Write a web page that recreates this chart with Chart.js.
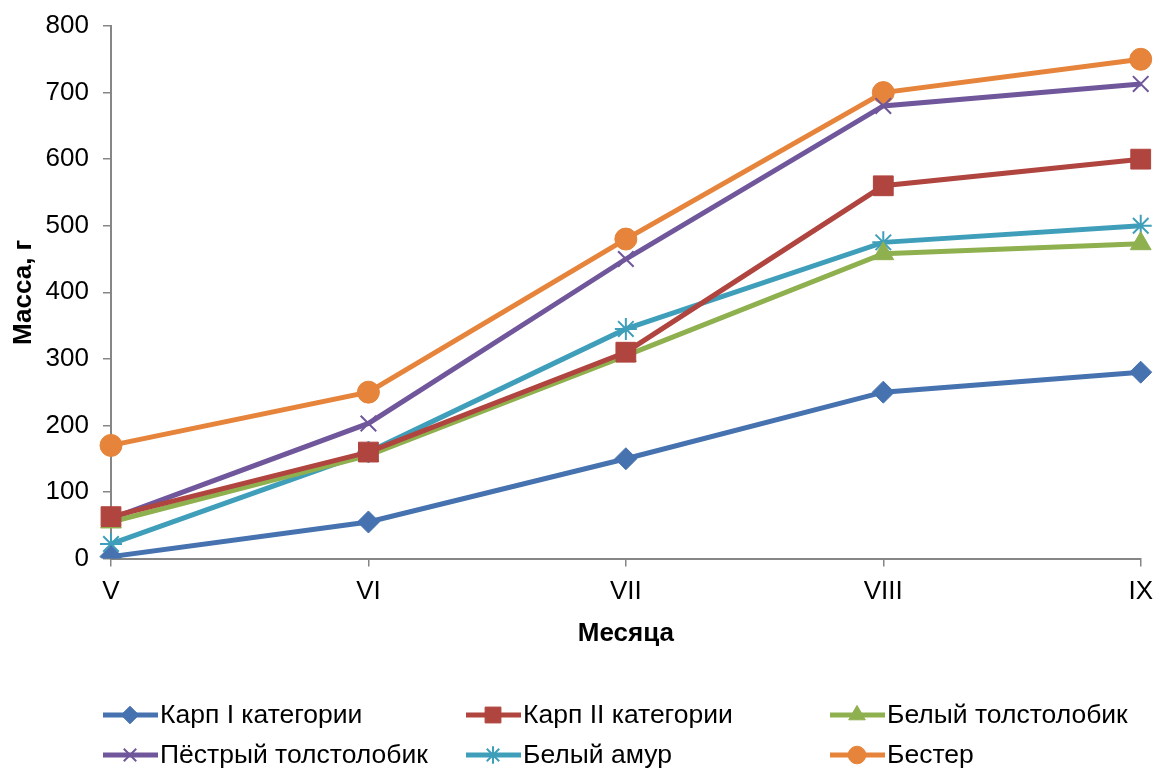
<!DOCTYPE html>
<html>
<head>
<meta charset="utf-8">
<script src="https://cdn.jsdelivr.net/npm/chart.js@4/dist/chart.umd.min.js"></script>
<style>
  body { margin: 0; background: #fff; }
</style>
</head>
<body>
<canvas id="myChart" width="1163" height="772"></canvas>
<script>
// months
let months = ['V', 'VI', 'VII', 'VIII', 'IX'];

// mass, g
let karp1 = [3, 55, 150, 250, 280];
let karp2 = [63, 160, 310, 560, 600];
let belTolst = [55, 155, 305, 458, 473];
let pestrTolst = [60, 203, 450, 680, 713];
let belAmur = [22, 160, 345, 475, 500];
let bester = [170, 250, 480, 700, 750];

let names = ['Карп I категории', 'Карп II категории', 'Белый толстолобик',
             'Пёстрый толстолобик', 'Белый амур', 'Бестер'];

let font = 'Liberation Sans, Arial, sans-serif';

function series(label, data, color, style, radius, bw) {
    return {
        label: label,
        data: data,
        borderColor: color,
        backgroundColor: color,
        borderWidth: 5,
        pointStyle: style,
        pointRadius: radius,
        pointHoverRadius: radius,
        pointBorderWidth: bw,
        pointBackgroundColor: color,
        pointBorderColor: color,
        tension: 0
    };
}

let sets = [
    series(names[0], karp1, '#4672B0', 'rectRot', 11, 1),
    series(names[1], karp2, '#B0443F', 'rect', 14, 1),
    series(names[2], belTolst, '#8FB04F', 'triangle', 12, 1),
    series(names[3], pestrTolst, '#70579B', 'crossRot', 11, 2),
    series(names[4], belAmur, '#3F9FBA', 'star', 11, 2),
    series(names[5], bester, '#E5843A', 'circle', 11, 1)
];

// legend like excel: line with marker in the middle
let legendPlugin = {
    id: 'lineLegend',
    afterDraw(chart) {
        let c = chart.ctx;
        let cols = [103, 466, 830];
        let rows = [715, 755];
        chart.data.datasets.forEach((ds, i) => {
            let x = cols[i % 3];
            let y = rows[Math.floor(i / 3)];
            c.save();
            c.strokeStyle = ds.borderColor;
            c.fillStyle = ds.borderColor;
            c.lineWidth = 5;
            c.beginPath();
            c.moveTo(x, y);
            c.lineTo(x + 55, y);
            c.stroke();
            c.lineWidth = ds.pointBorderWidth;
            Chart.helpers.drawPoint(c, {
                pointStyle: ds.pointStyle,
                rotation: 0,
                radius: ds.pointRadius * 0.8,
                borderWidth: ds.pointBorderWidth
            }, x + 27, y);
            c.fillStyle = '#000';
            c.font = '26.5px ' + font;
            c.textBaseline = 'middle';
            c.fillText(ds.label, x + 57, y + 1);
            c.restore();
        });
    }
};

var ctx = document.getElementById('myChart').getContext('2d');

myChart = new Chart(ctx, {
    type: 'line',
    data: {
        labels: months,
        datasets: sets
    },
    plugins: [legendPlugin],
    options: {
        responsive: false,
        animation: false,
        layout: {
            padding: { top: 0, right: 21, bottom: 123, left: 8 }
        },
        plugins: {
            legend: { display: false },
            tooltip: { enabled: false }
        },
        scales: {
            x: {
                offset: false,
                grid: {
                    display: true,
                    drawOnChartArea: false,
                    drawTicks: true,
                    tickLength: 8,
                    color: '#868686',
                    lineWidth: 1.5
                },
                border: { display: true, color: '#868686', width: 2 },
                ticks: {
                    color: '#000',
                    font: { family: font, size: 26 },
                    padding: 10,
                    maxRotation: 0
                },
                title: {
                    display: true,
                    text: 'Месяца',
                    color: '#000',
                    font: { family: font, size: 26, weight: 'bold' },
                    padding: { top: 0, bottom: 0 }
                }
            },
            y: {
                min: 0,
                max: 800,
                afterFit(s) {
                    s.width = 103;
                    s.paddingTop = 26;
                },
                grid: {
                    display: true,
                    drawOnChartArea: false,
                    drawTicks: true,
                    tickLength: 8,
                    color: '#868686',
                    lineWidth: 1.5
                },
                border: { display: true, color: '#868686', width: 2 },
                ticks: {
                    stepSize: 100,
                    color: '#000',
                    font: { family: font, size: 26 },
                    padding: 14
                },
                title: {
                    display: true,
                    text: 'Масса, г',
                    color: '#000',
                    font: { family: font, size: 26, weight: 'bold' },
                    padding: { top: 0, bottom: 0 }
                }
            }
        }
    }
});
</script>
</body>
</html>
